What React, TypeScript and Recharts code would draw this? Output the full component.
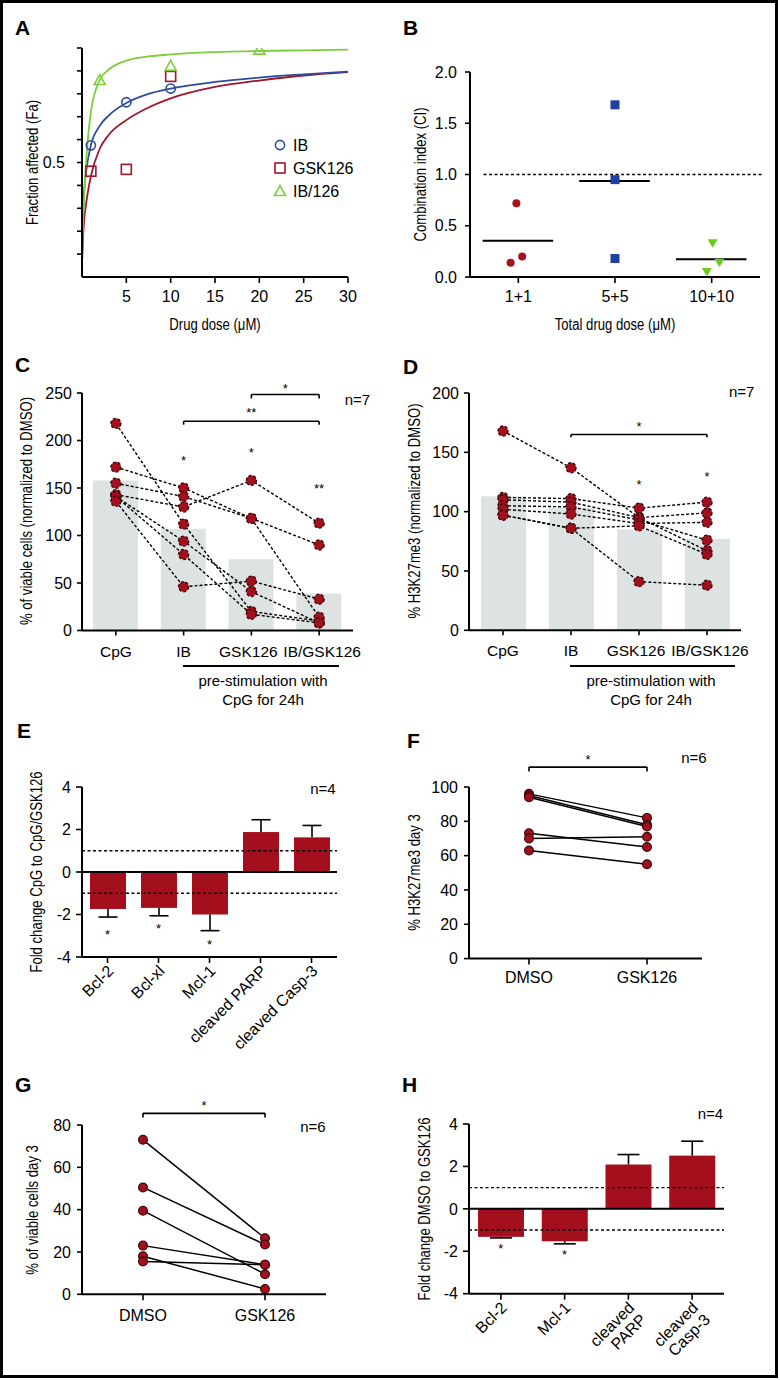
import React from "react";
import {
  Bar,
  BarChart,
  ComposedChart,
  Legend,
  Line,
  LineChart,
  ReferenceDot,
  ReferenceLine,
  Scatter,
  XAxis,
  YAxis,
} from "recharts";

const SANS = "'Liberation Sans', Arial, Helvetica, sans-serif";
const DARK_RED = "#a30f1d";
const DOT_EDGE = "#3a0a0c";
const GREY_BAR = "#dde3e3";
const A_BLUE = "#2b4c9f";
const A_RED = "#a0162a";
const A_GREEN = "#7ccf3a";
const B_RED = "#a8111f";
const B_BLUE = "#1f40a0";
const B_GREEN = "#6ccc1c";

// A: fraction affected vs dose
const A_DOSE_IB = [1, 5, 10];
const A_FA_IB = [0.575, 0.763, 0.823];
const A_DOSE_GSK = [1, 5, 10];
const A_FA_GSK = [0.462, 0.47, 0.876];
const A_DOSE_COMBO = [2, 10, 20];
const A_FA_COMBO = [0.86, 0.922, 0.993];
const A_CURVE_DOSE = [0.03, 0.1, 0.25, 0.5, 1, 2, 3, 5, 7.5, 10, 15, 20, 25, 30];
const A_CURVE_IB = [0.15, 0.26, 0.38, 0.47, 0.575, 0.66, 0.705, 0.76, 0.8, 0.823, 0.852, 0.871, 0.885, 0.897];
const A_CURVE_GSK = [0.08, 0.16, 0.25, 0.33, 0.44, 0.56, 0.62, 0.685, 0.74, 0.78, 0.83, 0.858, 0.88, 0.895];
const A_CURVE_COMBO = [0.15, 0.22, 0.36, 0.52, 0.72, 0.86, 0.905, 0.945, 0.963, 0.972, 0.982, 0.987, 0.99, 0.993];
const A_LEGEND = ["IB", "GSK126", "IB/126"];
const A_X_TICKS = [5, 10, 15, 20, 25, 30];
const A_Y_TICKS = [0.1, 0.2, 0.3, 0.4, 0.5, 0.6, 0.7, 0.8, 0.9, 1.0];

// B: combination index
const B_GROUPS = ["1+1", "5+5", "10+10"];
const B_CI_RED = [0.72, 0.14, 0.2];
const B_CI_BLUE = [1.68, 0.95, 0.18];
const B_CI_GREEN = [0.33, 0.14, 0.05];
const B_JITTER_RED = [-0.02, -0.08, 0.04];
const B_JITTER_BLUE = [0, 0, 0];
const B_JITTER_GREEN = [0.01, 0.08, -0.05];

// C / D: paired donors with mean bars
const CD_CONDITIONS = ["CpG", "IB", "GSK126", "IB/GSK126"];
const CD_TICK_NUDGE = [0, 0, -3, 3];
const C_BAR = [158, 107, 75, 39];
const C_DONORS = [
  [218, 112, 20, 10],
  [172, 150, 118, 90],
  [155, 141, 118, 14],
  [143, 130, 158, 113],
  [141, 94, 41, 8],
  [141, 80, 17, 8],
  [136, 46, 52, 33],
];
const D_BAR = [113, 103, 85, 77];
const D_DONORS = [
  [168, 137, 95, 67],
  [112, 111, 103, 108],
  [110, 108, 95, 99],
  [105, 104, 93, 76],
  [102, 98, 90, 91],
  [97, 86, 88, 64],
  [97, 86, 41, 38],
];

// E / H: fold change
const E_TARGETS = ["Bcl-2", "Bcl-xl", "Mcl-1", "cleaved PARP", "cleaved Casp-3"];
const E_FOLD = [-1.74, -1.69, -2.0, 1.88, 1.63];
const E_SEM = [0.38, 0.37, 0.76, 0.58, 0.56];
const E_STAR_Y = [-2.8, -2.53, -3.27];
const H_TARGETS = ["Bcl-2", "Mcl-1", "cleaved\nPARP", "cleaved\nCasp-3"];
const H_FOLD = [-1.32, -1.53, 2.09, 2.51];
const H_SEM = [0.05, 0.12, 0.47, 0.68];
const H_STAR_Y = [-1.76, -2.05];

// F / G: DMSO vs GSK126 pairs
const FG_GROUPS = ["DMSO", "GSK126"];
const F_PAIRS = [
  [96, 82],
  [95, 78],
  [94, 77],
  [73, 65],
  [70, 71],
  [63, 55],
];
const G_PAIRS = [
  [73, 26.5],
  [50.5, 23.5],
  [39.5, 9.5],
  [23, 14],
  [18, 2.5],
  [15.5, 14],
];

const AXIS = { stroke: "#000", strokeWidth: 2 };
const TICKLINE = { stroke: "#000", strokeWidth: 1.6 };
const TICK = { fontSize: 16, fill: "#000", fontFamily: SANS };

const place = (pl: number, pt: number, pr: number, pb: number, yw: number, mt: number, mr: number, xh: number) => ({
  style: { position: "absolute" as const, left: pl - yw, top: pt - mt },
  width: pr - pl + yw + mr,
  height: pb - pt + mt + xh,
  margin: { top: mt, right: mr, bottom: 0, left: 0 },
  yw,
  xh,
});

const pts = (xs: number[], ys: number[]) => xs.map((x, i) => ({ x, y: ys[i] }));

const marker = (kind: number, cx: number, cy: number) => {
  if (kind === 0) return <circle cx={cx} cy={cy} r={4.6} fill="none" stroke={A_BLUE} strokeWidth={1.6} />;
  if (kind === 1) return <rect x={cx - 5} y={cy - 5} width={10} height={10} fill="none" stroke={A_RED} strokeWidth={1.6} />;
  return (
    <polygon
      points={`${cx},${cy - 5.5} ${cx + 5.5},${cy + 4.5} ${cx - 5.5},${cy + 4.5}`}
      fill="none"
      stroke={A_GREEN}
      strokeWidth={1.6}
    />
  );
};

const star = (txt: string, fs = 13) => (p: any) => (
  <text x={p.cx} y={p.cy + fs * 0.55} textAnchor="middle" fontSize={fs} fontFamily={SANS} fill="#000">
    {txt}
  </text>
);

function bracket(key: string, x1: any, x2: any, y: number, drop: number, txt: string, offset: number) {
  const st = { stroke: "#000", strokeWidth: 1.6 };
  return [
    <ReferenceLine
      key={key + "h"}
      segment={[{ x: x1, y }, { x: x2, y }]}
      {...st}
      ifOverflow="visible"
      label={{ value: txt, position: "top", offset, fontSize: 13, fill: "#000", fontFamily: SANS }}
    />,
    <ReferenceLine key={key + "l"} segment={[{ x: x1, y }, { x: x1, y: y - drop }]} {...st} ifOverflow="visible" />,
    <ReferenceLine key={key + "r"} segment={[{ x: x2, y }, { x: x2, y: y - drop }]} {...st} ifOverflow="visible" />,
  ];
}

function PanelA() {
  const f = place(82, 48, 348, 277, 70, 12, 14, 40);
  return (
    <div style={f.style}>
      <ComposedChart width={f.width} height={f.height} margin={f.margin}>
        <XAxis type="number" dataKey="x" domain={[0, 30]} ticks={A_X_TICKS} allowDataOverflow height={f.xh}
          axisLine={AXIS} tickLine={TICKLINE} tickSize={6} tickMargin={8} tick={TICK} />
        <YAxis type="number" dataKey="y" domain={[0, 1]} ticks={A_Y_TICKS} allowDataOverflow width={f.yw}
          tickFormatter={(v: number) => (v === 0.5 ? "0.5" : "")}
          axisLine={AXIS} tickLine={TICKLINE} tickSize={5} tickMargin={12} tick={TICK} />
        <Line data={pts(A_CURVE_DOSE, A_CURVE_GSK)} dataKey="y" type="monotone" stroke={A_RED} strokeWidth={1.8} dot={false} activeDot={false} isAnimationActive={false} />
        <Line data={pts(A_CURVE_DOSE, A_CURVE_IB)} dataKey="y" type="monotone" stroke={A_BLUE} strokeWidth={1.8} dot={false} activeDot={false} isAnimationActive={false} />
        <Line data={pts(A_CURVE_DOSE, A_CURVE_COMBO)} dataKey="y" type="monotone" stroke={A_GREEN} strokeWidth={1.8} dot={false} activeDot={false} isAnimationActive={false} />
        <Scatter data={pts(A_DOSE_IB, A_FA_IB)} dataKey="y" shape={(p: any) => marker(0, p.cx, p.cy)} isAnimationActive={false} />
        <Scatter data={pts(A_DOSE_GSK, A_FA_GSK)} dataKey="y" shape={(p: any) => marker(1, p.cx, p.cy)} isAnimationActive={false} />
        <Scatter data={pts(A_DOSE_COMBO, A_FA_COMBO)} dataKey="y" shape={(p: any) => marker(2, p.cx, p.cy)} isAnimationActive={false} />
        <Legend
          layout="vertical"
          align="center"
          verticalAlign="middle"
          wrapperStyle={{ position: "absolute", left: 256, top: 97, width: 110, height: 70 }}
          content={() => (
            <svg width={110} height={70}>
              {A_LEGEND.map((name, i) => {
                const cy = 12 + i * 23;
                return (
                  <g key={name}>
                    {marker(i, 12, cy)}
                    <text x={25} y={cy + 5.7} fontSize={16} fontFamily={SANS} fill="#000">{name}</text>
                  </g>
                );
              })}
            </svg>
          )}
        />
      </ComposedChart>
    </div>
  );
}

function PanelB() {
  const f = place(470, 72, 760, 277, 70, 12, 14, 40);
  const groups = [
    { ci: B_CI_RED, jit: B_JITTER_RED },
    { ci: B_CI_BLUE, jit: B_JITTER_BLUE },
    { ci: B_CI_GREEN, jit: B_JITTER_GREEN },
  ];
  const means = groups.map((g) => g.ci.reduce((a, b) => a + b, 0) / g.ci.length);
  const shapes = [
    (p: any) => <circle cx={p.cx} cy={p.cy} r={4} fill={B_RED} />,
    (p: any) => <rect x={p.cx - 4.5} y={p.cy - 4.5} width={9} height={9} fill={B_BLUE} />,
    (p: any) => <polygon points={`${p.cx - 5},${p.cy - 4} ${p.cx + 5},${p.cy - 4} ${p.cx},${p.cy + 4.5}`} fill={B_GREEN} />,
  ];
  return (
    <div style={f.style}>
      <ComposedChart width={f.width} height={f.height} margin={f.margin}>
        <XAxis type="number" dataKey="x" domain={[0.5, 3.5]} ticks={[1, 2, 3]} allowDataOverflow height={f.xh}
          tickFormatter={(v: number) => B_GROUPS[Math.round(v) - 1]}
          axisLine={AXIS} tickLine={TICKLINE} tickSize={6} tickMargin={8} tick={TICK} />
        <YAxis type="number" dataKey="y" domain={[0, 2]} ticks={[0, 0.5, 1, 1.5, 2]} allowDataOverflow width={f.yw}
          tickFormatter={(v: number) => v.toFixed(1)}
          axisLine={AXIS} tickLine={TICKLINE} tickSize={5} tickMargin={8} tick={TICK} />
        <ReferenceLine segment={[{ x: 0.64, y: 1 }, { x: 3.53, y: 1 }]} stroke="#000" strokeWidth={1.4} strokeDasharray="3 2.5" ifOverflow="visible" />
        {means.map((m, i) => (
          <ReferenceLine key={"m" + i} segment={[{ x: i + 1 - 0.37, y: m }, { x: i + 1 + 0.36, y: m }]} stroke="#000" strokeWidth={2} ifOverflow="visible" />
        ))}
        {groups.map((g, i) => (
          <Scatter key={"s" + i} data={g.ci.map((y, k) => ({ x: i + 1 + g.jit[k], y }))} dataKey="y" shape={shapes[i]} isAnimationActive={false} />
        ))}
      </ComposedChart>
    </div>
  );
}

function CdTick(props: any) {
  const { x, y, payload, index } = props;
  return (
    <text x={x + (CD_TICK_NUDGE[index] || 0)} y={y} dy="0.71em" textAnchor="middle" fontSize={15.5} fontFamily={SANS} fill="#000">
      {payload.value}
    </text>
  );
}

function PairedBars(props: {
  f: ReturnType<typeof place>;
  bar: number[];
  donors: number[][];
  yMax: number;
  yTicks: number[];
  stars: { x: string; y: number; t: string }[];
  brackets: any[];
}) {
  const { f, bar, donors, yMax, yTicks, stars, brackets } = props;
  const rows = CD_CONDITIONS.map((name, i) => {
    const r: any = { name, bar: bar[i] };
    donors.forEach((d, k) => {
      r["d" + k] = d[i];
    });
    return r;
  });
  return (
    <div style={f.style}>
      <ComposedChart width={f.width} height={f.height} margin={f.margin} data={rows}>
        <XAxis dataKey="name" interval={0} height={f.xh} axisLine={AXIS} tickLine={TICKLINE} tickSize={5} tickMargin={10} tick={<CdTick />} />
        <YAxis type="number" domain={[0, yMax]} ticks={yTicks} width={f.yw} axisLine={AXIS} tickLine={TICKLINE} tickSize={5} tickMargin={5} tick={TICK} />
        <Bar dataKey="bar" fill={GREY_BAR} barSize={45} isAnimationActive={false} />
        {donors.map((_, k) => (
          <Line key={"d" + k} dataKey={"d" + k} stroke="#000" strokeWidth={1.4} strokeDasharray="3 2"
            dot={{ r: 5, fill: DARK_RED, stroke: DOT_EDGE, strokeWidth: 1.4 }} activeDot={false} isAnimationActive={false} />
        ))}
        {stars.map((s, i) => (
          <ReferenceDot key={"st" + i} x={s.x} y={s.y} r={0} ifOverflow="visible" shape={star(s.t)} />
        ))}
        {brackets}
      </ComposedChart>
    </div>
  );
}

function SlantTick(props: any) {
  const { x, y, payload } = props;
  const lines = String(payload.value).split("\n");
  return (
    <g transform={`translate(${x + 7},${y + 7}) rotate(-45)`}>
      <text textAnchor="end" fontSize={16} fontFamily={SANS} fill="#000">
        {lines.map((l, i) => (
          <tspan key={i} x={0} dy={i === 0 ? 0 : 17}>{l}</tspan>
        ))}
      </text>
    </g>
  );
}

function FoldBars(props: {
  f: ReturnType<typeof place>;
  targets: string[];
  fold: number[];
  sem: number[];
  starY: number[];
  barSize: number;
  capW: number;
}) {
  const { f, targets, fold, sem, starY, barSize, capW } = props;
  const rows = targets.map((name, i) => ({ name, value: fold[i], sem: sem[i] }));
  const shape = (p: any) => {
    const top = Math.min(p.y, p.y + p.height);
    const h = Math.abs(p.height);
    const v = p.payload.value;
    const ppu = v !== 0 ? h / Math.abs(v) : 0;
    const cx = p.x + p.width / 2;
    const end = v >= 0 ? top : top + h;
    const tip = v >= 0 ? end - p.payload.sem * ppu : end + p.payload.sem * ppu;
    return (
      <g>
        <rect x={p.x} y={top} width={p.width} height={h} fill={DARK_RED} />
        <line x1={cx} x2={cx} y1={end} y2={tip} stroke="#000" strokeWidth={1.6} />
        <line x1={cx - capW / 2} x2={cx + capW / 2} y1={tip} y2={tip} stroke="#000" strokeWidth={1.6} />
      </g>
    );
  };
  return (
    <div style={f.style}>
      <BarChart width={f.width} height={f.height} margin={f.margin} data={rows}>
        <XAxis dataKey="name" interval={0} height={f.xh} axisLine={AXIS} tickLine={TICKLINE} tickSize={6} tickMargin={2} tick={<SlantTick />} />
        <YAxis type="number" domain={[-4, 4]} ticks={[-4, -2, 0, 2, 4]} width={f.yw} axisLine={AXIS} tickLine={TICKLINE} tickSize={6} tickMargin={5} tick={TICK} />
        <Bar dataKey="value" barSize={barSize} shape={shape} isAnimationActive={false} />
        <ReferenceLine y={0} stroke="#000" strokeWidth={2} />
        <ReferenceLine y={1} stroke="#000" strokeWidth={1.4} strokeDasharray="3 2.5" />
        <ReferenceLine y={-1} stroke="#000" strokeWidth={1.4} strokeDasharray="3 2.5" />
        {starY.map((y, i) => (
          <ReferenceDot key={"st" + i} x={targets[i]} y={y} r={0} ifOverflow="visible" shape={star("*")} />
        ))}
      </BarChart>
    </div>
  );
}

function PairedLines(props: {
  f: ReturnType<typeof place>;
  pairs: number[][];
  yMax: number;
  yTicks: number[];
  br: number;
  tickMargin: number;
  pad: { left: number; right: number };
}) {
  const { f, pairs, yMax, yTicks, br, tickMargin, pad } = props;
  const rows = FG_GROUPS.map((name, i) => {
    const r: any = { name };
    pairs.forEach((p, k) => {
      r["d" + k] = p[i];
    });
    return r;
  });
  return (
    <div style={f.style}>
      <LineChart width={f.width} height={f.height} margin={f.margin} data={rows}>
        <XAxis dataKey="name" interval={0} height={f.xh} padding={pad} axisLine={AXIS} tickLine={TICKLINE} tickSize={6} tickMargin={tickMargin} tick={TICK} />
        <YAxis type="number" domain={[0, yMax]} ticks={yTicks} width={f.yw} axisLine={AXIS} tickLine={TICKLINE} tickSize={5} tickMargin={6} tick={TICK} />
        {pairs.map((_, k) => (
          <Line key={"d" + k} dataKey={"d" + k} stroke="#000" strokeWidth={1.5}
            dot={{ r: 4.4, fill: DARK_RED, stroke: DOT_EDGE, strokeWidth: 1.2 }} activeDot={false} isAnimationActive={false} />
        ))}
        {bracket("b", FG_GROUPS[0], FG_GROUPS[1], br, yMax * 0.025, "*", 3)}
      </LineChart>
    </div>
  );
}

function Overlay() {
  const letters = [
    ["A", 15, 35], ["B", 403, 35], ["C", 15, 372], ["D", 403, 374],
    ["E", 17, 738], ["F", 407, 748], ["G", 15, 1092], ["H", 402, 1092],
  ] as const;
  const yTitles = [
    ["Fraction affected (Fa)", 38, 162.5],
    ["Combination index (CI)", 426, 174.5],
    ["% of viable cells (normalized to DMSO)", 32, 511],
    ["% H3K27me3 (normalized to DMSO)", 420, 511],
    ["Fold change CpG to CpG/GSK126", 42, 872],
    ["% H3K27me3 day 3", 420, 872.5],
    ["% of viable cells day 3", 38, 1210],
    ["Fold change DMSO to GSK126", 430, 1209],
  ] as const;
  const xTitles = [
    ["Drug dose (\u03bcM)", 215, 330],
    ["Total drug dose (\u03bcM)", 615, 330],
  ] as const;
  const notes = [
    ["n=7", 357.5, 405], ["n=7", 741.7, 397], ["n=4", 323, 794],
    ["n=6", 694, 763], ["n=6", 313, 1132], ["n=4", 710.5, 1119],
  ] as const;
  const pre = [
    [183, 339, 263],
    [570, 735, 651],
  ];
  return (
    <svg width={780} height={1380} style={{ position: "absolute", left: 0, top: 0, pointerEvents: "none" }}>
      {letters.map(([t, x, y]) => (
        <text key={t} x={x} y={y} fontSize={21} fontWeight="bold" fontFamily={SANS}>{t}</text>
      ))}
      {yTitles.map(([t, x, y]) => (
        <text key={t} transform={`translate(${x} ${y}) rotate(-90) scale(0.82 1)`} textAnchor="middle" fontSize={16} fontFamily={SANS}>{t}</text>
      ))}
      {xTitles.map(([t, x, y]) => (
        <text key={t} transform={`translate(${x} ${y}) scale(0.82 1)`} textAnchor="middle" fontSize={16} fontFamily={SANS}>{t}</text>
      ))}
      {notes.map(([t, x, y], i) => (
        <text key={i} x={x} y={y} textAnchor="middle" fontSize={15} fontFamily={SANS}>{t}</text>
      ))}
      {pre.map(([x1, x2, cx], i) => (
        <g key={"p" + i}>
          <line x1={x1} x2={x2} y1={666} y2={666} stroke="#000" strokeWidth={2} />
          <text x={cx} y={686} textAnchor="middle" fontSize={15} fontFamily={SANS}>pre-stimulation with</text>
          <text x={cx} y={705} textAnchor="middle" fontSize={15} fontFamily={SANS}>CpG for 24h</text>
        </g>
      ))}
    </svg>
  );
}

export default function App() {
  return (
    <div style={{ position: "absolute", left: 0, top: 0, width: 780, height: 1380, background: "#fff", fontFamily: SANS }}>
      <PanelA />
      <PanelB />
      <PairedBars
        f={place(82, 392.5, 353, 630, 70, 20, 20, 40)}
        bar={C_BAR}
        donors={C_DONORS}
        yMax={250}
        yTicks={[0, 50, 100, 150, 200, 250]}
        stars={[
          { x: "IB", y: 182, t: "*" },
          { x: "GSK126", y: 190.5, t: "*" },
          { x: "IB/GSK126", y: 152.6, t: "**" },
        ]}
        brackets={[
          ...bracket("c1", "GSK126", "IB/GSK126", 248.4, 4.2, "*", 1.5),
          ...bracket("c2", "IB", "IB/GSK126", 220.3, 3.6, "**", 4),
        ]}
      />
      <PairedBars
        f={place(469, 392.7, 741, 630, 70, 20, 20, 40)}
        bar={D_BAR}
        donors={D_DONORS}
        yMax={200}
        yTicks={[0, 50, 100, 150, 200]}
        stars={[
          { x: "GSK126", y: 125.5, t: "*" },
          { x: "IB/GSK126", y: 132, t: "*" },
        ]}
        brackets={bracket("d1", "IB", "IB/GSK126", 165, 2.3, "*", 4)}
      />
      <FoldBars f={place(82, 787.3, 337, 957.3, 70, 20, 20, 120)} targets={E_TARGETS} fold={E_FOLD} sem={E_SEM} starY={E_STAR_Y} barSize={36} capW={19} />
      <PairedLines f={place(469, 786.7, 702, 958.3, 70, 45, 20, 40)} pairs={F_PAIRS} yMax={100} yTicks={[0, 20, 40, 60, 80, 100]} br={111.6} tickMargin={7} pad={{ left: 60, right: 55 }} />
      <PairedLines f={place(82, 1125, 326, 1294.3, 70, 40, 20, 40)} pairs={G_PAIRS} yMax={80} yTicks={[0, 20, 40, 60, 80]} br={85.5} tickMargin={9} pad={{ left: 61, right: 61 }} />
      <FoldBars f={place(469.3, 1124.3, 724.3, 1294, 70, 20, 20, 82)} targets={H_TARGETS} fold={H_FOLD} sem={H_SEM} starY={H_STAR_Y} barSize={46} capW={22} />
      <Overlay />
      <div style={{ position: "absolute", left: 0, top: 0, width: 778, height: 1378, border: "3px solid #000", boxSizing: "border-box", pointerEvents: "none" }} />
    </div>
  );
}
